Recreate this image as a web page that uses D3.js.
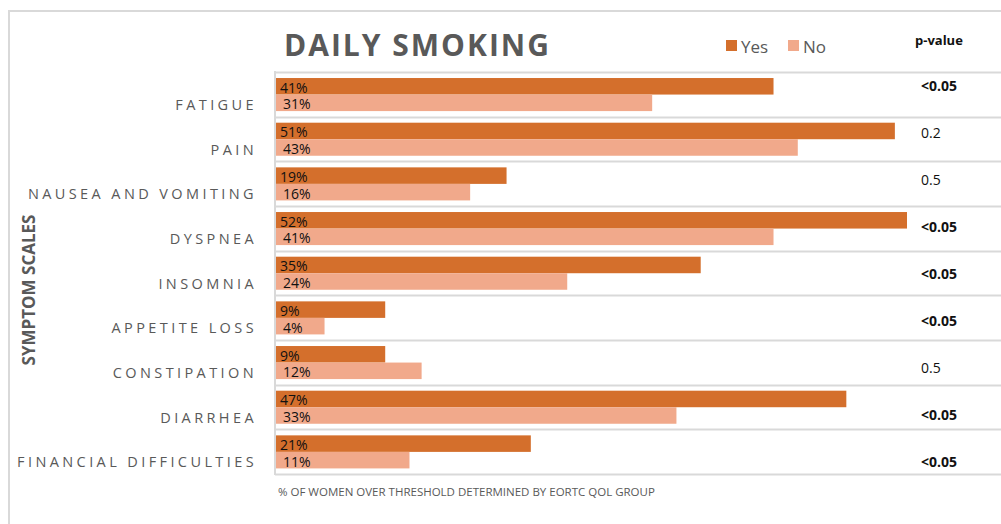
<!DOCTYPE html>
<html>
<head>
<meta charset="utf-8">
<script src="https://cdn.jsdelivr.net/npm/d3@7"></script>
<style>
  html, body { margin: 0; padding: 0; background: #fff; }
  svg { display: block; }
  text { font-family: "Open Sans", "DejaVu Sans", sans-serif; }
</style>
</head>
<body>
<div id="container"></div>
<script>
const categories = [
  "FATIGUE",
  "PAIN",
  "NAUSEA AND VOMITING",
  "DYSPNEA",
  "INSOMNIA",
  "APPETITE LOSS",
  "CONSTIPATION",
  "DIARRHEA",
  "FINANCIAL DIFFICULTIES"
];
const series = ["Yes", "No"];
const yesValues = [41, 51, 19, 52, 35, 9, 9, 47, 21];
const noValues = [31, 43, 16, 41, 24, 4, 12, 33, 11];
const pValues = ["<0.05", "0.2", "0.5", "<0.05", "<0.05", "<0.05", "0.5", "<0.05", "<0.05"];

const colors = { Yes: "#d46f2c", No: "#f1a98b" };
const grey = "#595959";
const gridColor = "#d9d9d9";
const narrow = "'Liberation Sans Narrow', 'Open Sans', sans-serif";

const width = 1001;
const height = 524;

const svg = d3
  .select("#container")
  .append("svg")
  .attr("width", width)
  .attr("height", height);

// outer frame (left + top edges visible)
svg.append("path")
  .attr("d", `M9,${height} L9,11 L${width},11`)
  .attr("fill", "none")
  .attr("stroke", gridColor)
  .attr("stroke-width", 2);

const x = d3.scaleLinear().domain([0, 52]).range([276, 907]);
const y0 = d3.scaleBand().domain(categories).range([72, 474]);
const y1 = d3.scaleBand().domain(series)
  .range([y0.bandwidth() * 0.135, y0.bandwidth() * 0.875]);

const rows = categories.map((c, i) => ({
  cat: c,
  vals: [{ s: "Yes", v: yesValues[i] }, { s: "No", v: noValues[i] }]
}));

// row separators
svg.append("g")
  .selectAll("line")
  .data(categories.concat(["end"]))
  .join("line")
  .attr("x1", 275)
  .attr("x2", width)
  .attr("y1", (d, i) => Math.round(72 + i * y0.step()) + 0.5)
  .attr("y2", (d, i) => Math.round(72 + i * y0.step()) + 0.5)
  .attr("stroke", gridColor)
  .attr("stroke-width", 2);

// left axis line
svg.append("line")
  .attr("x1", 275).attr("x2", 275)
  .attr("y1", 71).attr("y2", 475)
  .attr("stroke", gridColor)
  .attr("stroke-width", 2);

const groups = svg.append("g")
  .selectAll("g")
  .data(rows)
  .join("g")
  .attr("transform", d => `translate(0,${y0(d.cat)})`);

groups.selectAll("rect")
  .data(d => d.vals)
  .join("rect")
  .attr("x", x(0))
  .attr("y", d => y1(d.s))
  .attr("width", d => x(d.v) - x(0))
  .attr("height", y1.bandwidth())
  .attr("fill", d => colors[d.s]);

groups.selectAll("text.val")
  .data(d => d.vals)
  .join("text")
  .attr("class", "val")
  .attr("x", d => x(0) + (d.s === "Yes" ? 4 : 7))
  .attr("y", d => y1(d.s) + y1.bandwidth() / 2 + 1)
  .attr("dominant-baseline", "central")
  .style("font-family", narrow)
  .style("font-size", "14px")
  .attr("fill", "#111")
  .text(d => d.v + "%");

// category labels
svg.append("g")
  .selectAll("text")
  .data(categories)
  .join("text")
  .attr("x", 257)
  .attr("y", d => y0(d) + y0.bandwidth() / 2 + 10)
  .attr("text-anchor", "end")
  .attr("dominant-baseline", "central")
  .attr("fill", grey)
  .style("font-size", "14.5px")
  .style("letter-spacing", "3.4px")
  .text(d => d);

// p-values column
const pY = d3.scalePoint().domain(d3.range(pValues.length)).range([85, 461]);
svg.append("text")
  .attr("x", 915)
  .attr("y", 40)
  .attr("dominant-baseline", "central")
  .style("font-size", "13px")
  .style("font-weight", "bold")
  .attr("fill", "#111")
  .text("p-value");

svg.append("g")
  .selectAll("text")
  .data(pValues)
  .join("text")
  .attr("x", 921)
  .attr("y", (d, i) => pY(i))
  .attr("dominant-baseline", "central")
  .style("font-size", "14px")
  .style("font-weight", d => d.startsWith("<") ? "bold" : "normal")
  .attr("fill", "#111")
  .text(d => d);

// title
svg.append("text")
  .attr("x", 284)
  .attr("y", 56)
  .attr("fill", grey)
  .style("font-size", "30px")
  .style("font-weight", "bold")
  .style("letter-spacing", "2px")
  .text("DAILY SMOKING");

// legend
const legend = svg.append("g").attr("transform", "translate(726,46)");
const legendItems = legend.selectAll("g")
  .data(series)
  .join("g")
  .attr("transform", (d, i) => `translate(${i * 62},0)`);
legendItems.append("rect")
  .attr("x", 0).attr("y", -6)
  .attr("width", 11).attr("height", 11)
  .attr("fill", d => colors[d]);
legendItems.append("text")
  .attr("x", 15)
  .attr("y", 0)
  .attr("dominant-baseline", "central")
  .attr("fill", grey)
  .style("font-size", "17px")
  .style("font-family", narrow)
  .text(d => d);

// axis title
svg.append("text")
  .attr("transform", "translate(28,290) rotate(-90)")
  .attr("text-anchor", "middle")
  .attr("dominant-baseline", "central")
  .attr("fill", grey)
  .style("font-size", "17px")
  .style("font-weight", "bold")
  .text("SYMPTOM SCALES");

// footnote
svg.append("text")
  .attr("x", 278)
  .attr("y", 491)
  .attr("dominant-baseline", "central")
  .attr("fill", grey)
  .style("font-size", "11.5px")
  .text("% OF WOMEN OVER THRESHOLD DETERMINED BY EORTC QOL GROUP");
</script>
</body>
</html>
